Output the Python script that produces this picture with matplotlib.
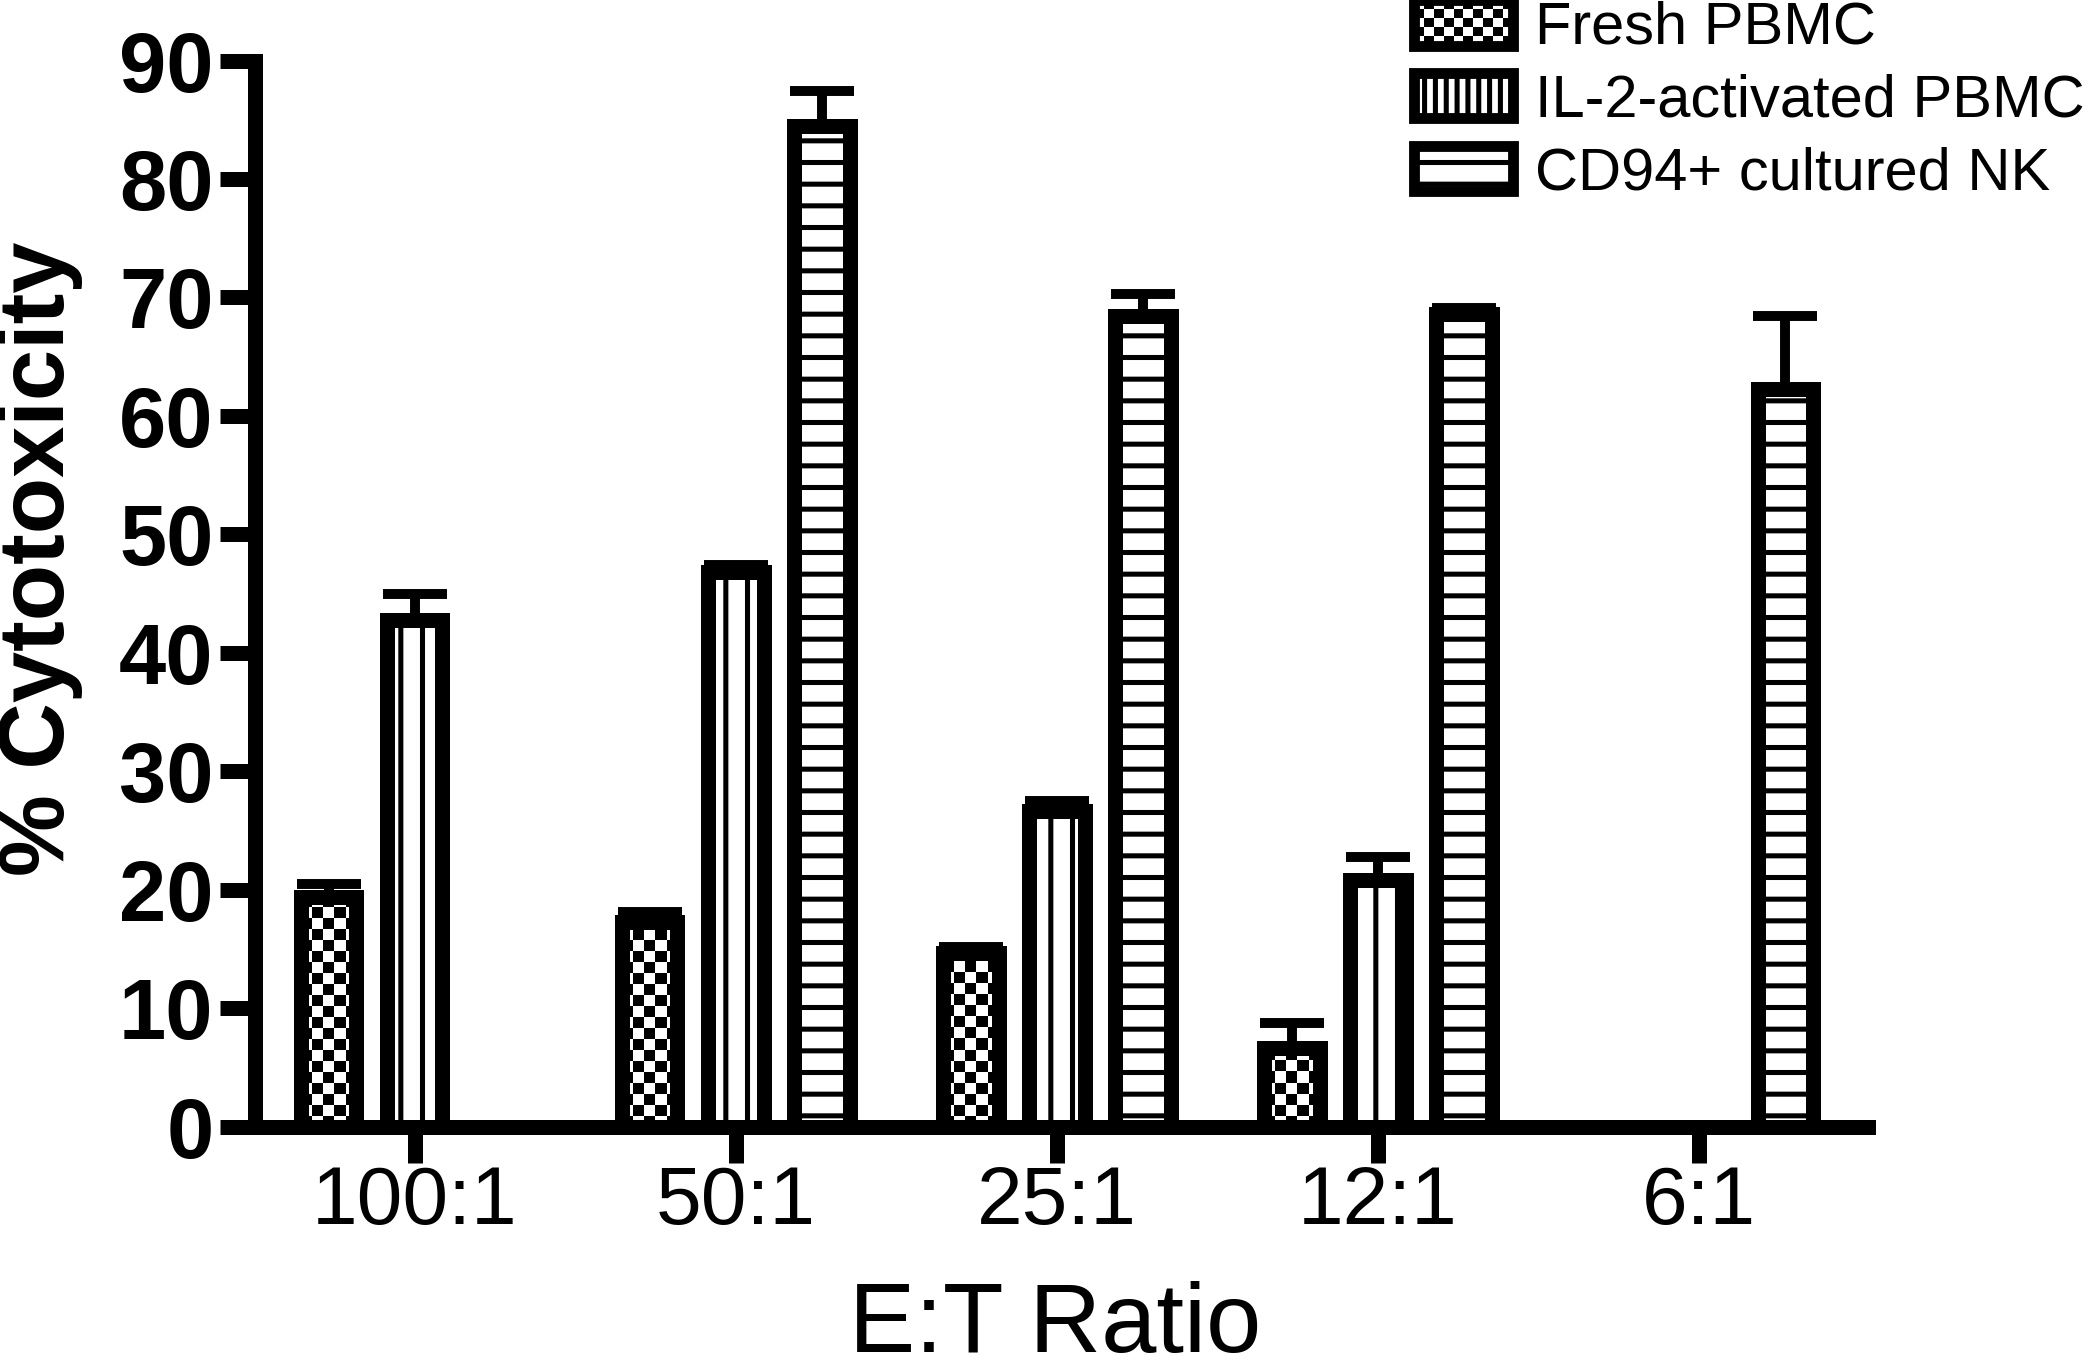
import numpy as np
import matplotlib
matplotlib.use('Agg')
import matplotlib.pyplot as plt
import matplotlib.patches as mpatches
from matplotlib.legend_handler import HandlerBase

plt.rcParams['font.family'] = ['Liberation Sans', 'DejaVu Sans']
plt.rcParams['hatch.linewidth'] = 2.8

ratios = ['100:1', '50:1', '25:1', '12:1', '6:1']
series_names = ['Fresh PBMC', 'IL-2-activated PBMC', 'CD94+ cultured NK']
fresh = [19.4, 17.3, 14.7, 6.7, np.nan]
fresh_err = [1.1, 0.8, 0.5, 2.1, np.nan]
il2 = [42.8, 46.8, 26.7, 20.8, np.nan]
il2_err = [2.2, 0.6, 0.8, 2.0, np.nan]
cd94 = [np.nan, 84.5, 68.4, 68.6, 62.3]
cd94_err = [np.nan, 2.9, 1.9, 0.5, 6.1]

DPI = 130
fig = plt.figure(figsize=(2100 / DPI, 1372 / DPI), dpi=DPI)
ax = fig.add_axes([0.1214, 0.1786, 0.7681, 0.7773])

x = np.arange(len(ratios))
offset = 0.268
width = 0.172
edge_lw = 8.3


def draw_series(pos, vals, errs, hatch=None, checker=False):
    vals = np.asarray(vals, float)
    errs = np.asarray(errs, float)
    ok = ~np.isnan(vals)
    xs, hs, es = pos[ok], vals[ok], errs[ok]
    ax.errorbar(xs, hs, yerr=[np.zeros_like(es), es], fmt='none', ecolor='black',
                elinewidth=5.5, capsize=17.7, capthick=5.5, zorder=1)
    if not checker:
        ax.bar(xs, hs, width, color='white', edgecolor='black', linewidth=edge_lw,
               hatch=hatch, zorder=2)
        return
    fills = ax.bar(xs, hs, width, color='white', edgecolor='none', zorder=2)
    cx, cy = 0.0343, 0.93  # checker cell size in data units
    for rect in fills:
        x0 = rect.get_x()
        h = rect.get_height()
        nx = int(np.ceil(width / cx))
        ny = int(np.ceil(h / cy))
        board = np.indices((ny, nx)).sum(axis=0) % 2
        im = ax.imshow(board, cmap='gray', origin='lower', interpolation='nearest',
                       extent=[x0, x0 + nx * cx, 0, ny * cy], aspect='auto', zorder=2.2)
        im.set_clip_path(rect)
    ax.bar(xs, hs, width, facecolor='none', edgecolor='black', linewidth=edge_lw, zorder=2.5)


draw_series(x - offset, fresh, fresh_err, checker=True)
draw_series(x.astype(float), il2, il2_err, hatch='|')
draw_series(x + offset, cd94, cd94_err, hatch='-')

ax.set_xlim(-0.498, 4.526)
ax.set_ylim(0, 90)
ax.set_yticks(np.arange(0, 91, 10))
ax.set_xticks(x)
ax.set_xticklabels(ratios)

for side in ['top', 'right']:
    ax.spines[side].set_visible(False)
for side in ['left', 'bottom']:
    ax.spines[side].set_linewidth(8.3)
    ax.spines[side].set_capstyle('projecting')
    ax.spines[side].set_zorder(3)

ax.tick_params(axis='y', length=19.4, width=8.3, pad=3.6, labelsize=47)
ax.tick_params(axis='x', length=20, width=8.3, pad=1, labelsize=45.5)
for lab in ax.get_yticklabels():
    lab.set_fontweight('bold')

fig.text(1055 / 2100, 1 - 1352 / 1372, 'E:T Ratio', fontsize=55, ha='center', va='baseline')
fig.text(64 / 2100, 1 - 559 / 1372, '% Cytotoxicity', fontsize=51, fontweight='bold',
         rotation=90, rotation_mode='anchor', ha='center', va='baseline')


class CheckerHandler(HandlerBase):
    def create_artists(self, legend, orig_handle, xdescent, ydescent, width, height,
                       fontsize, trans):
        arts = [mpatches.Rectangle((-xdescent, -ydescent), width, height,
                                   facecolor='white', edgecolor='none', transform=trans)]
        nx, ny = 10, 5
        cw, ch = width / nx, height / ny
        for i in range(nx):
            for j in range(ny):
                if (i + j) % 2:
                    arts.append(mpatches.Rectangle((-xdescent + i * cw, -ydescent + j * ch), cw, ch,
                                                   facecolor='black', edgecolor='none',
                                                   transform=trans))
        arts.append(mpatches.Rectangle((-xdescent, -ydescent), width, height,
                                       facecolor='none', edgecolor='black', linewidth=6,
                                       transform=trans))
        return arts


h_fresh = mpatches.Patch(facecolor='white', edgecolor='black')
h_il2 = mpatches.Patch(facecolor='white', edgecolor='black', linewidth=6, hatch='||')
h_cd94 = mpatches.Patch(facecolor='white', edgecolor='black', linewidth=6, hatch='-')
fig.legend([h_fresh, h_il2, h_cd94], series_names, loc='upper left',
           bbox_to_anchor=(1414 / 2100, 1.0), frameon=False, fontsize=33,
           borderpad=0, borderaxespad=0, handlelength=1.66, handleheight=0.8,
           handletextpad=0.37, labelspacing=0.29,
           handler_map={h_fresh: CheckerHandler()})

fig.savefig('out.png', dpi=DPI)
